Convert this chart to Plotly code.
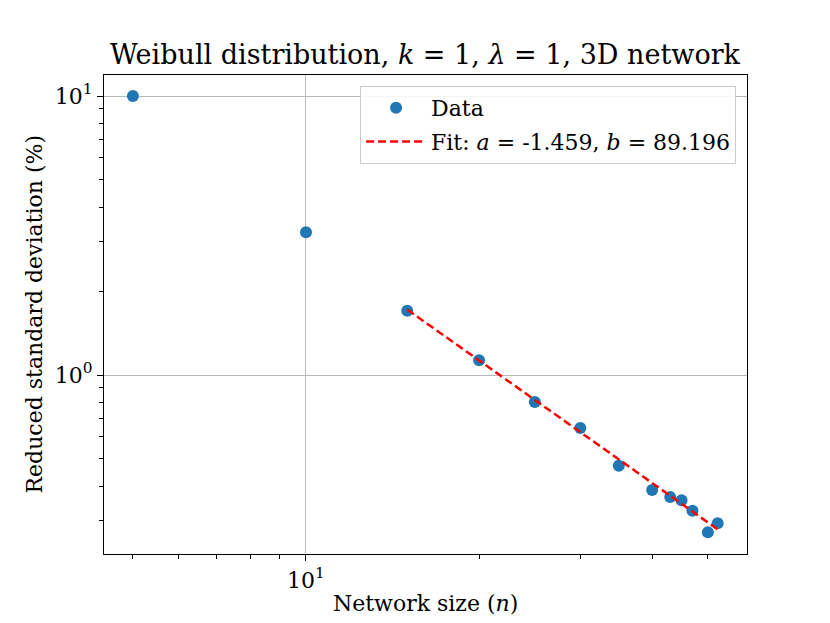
import plotly.graph_objects as go

# Data
network_size = [5, 10, 15, 20, 25, 30, 35, 40, 43, 45, 47, 50, 52]
reduced_std = [10.0, 3.25, 1.70, 1.13, 0.80, 0.646, 0.473, 0.387, 0.365, 0.356, 0.326, 0.273, 0.294]

fit_a = -1.459
fit_b = 89.196
fit_x = [15, 52]
fit_y = [fit_b * x ** fit_a for x in fit_x]

x_major = [10]
x_major_text = ["10<sup>1</sup>"]
x_minor = [5, 6, 7, 8, 9, 20, 30, 40, 50]
y_major = [1, 10]
y_major_text = ["10<sup>0</sup>", "10<sup>1</sup>"]
y_minor = [0.3, 0.4, 0.5, 0.6, 0.7, 0.8, 0.9, 2, 3, 4, 5, 6, 7, 8, 9]

FONT = "DejaVu Serif"
FS = 22

fig = go.Figure()
fig.add_trace(go.Scatter(
    x=network_size, y=reduced_std, mode="markers", name="Data",
    marker=dict(color="#1f77b4", size=12), legendgroup="g1",
))
fig.add_trace(go.Scatter(
    x=fit_x, y=fit_y, mode="lines",
    name=f"Fit: <i>a</i> = {fit_a:.3f}, <i>b</i> = {fit_b:.3f}",
    line=dict(color="red", width=2.5, dash="8px,4px"), legendgroup="g2",
))

axis_common = dict(
    type="log", showline=True, linecolor="black", linewidth=1.3, mirror=True,
    ticks="outside", ticklen=6, tickwidth=1.3, tickcolor="black",
    showgrid=True, gridcolor="#b8b8b8", gridwidth=1.4, zeroline=False,
    tickfont=dict(family=FONT, size=FS, color="black"),
)

fig.update_layout(
    width=830, height=623,
    margin=dict(l=96, r=91, t=67, b=77),
    paper_bgcolor="white", plot_bgcolor="white",
    font=dict(family=FONT, size=FS, color="black"),
    title=dict(text="Weibull distribution, <i>k</i> = 1, <i>λ</i> = 1, 3D network",
               x=(425 - 8) / 830, xanchor="center", y=1 - 47 / 623, yanchor="middle",
               font=dict(family=FONT, size=27, color="black")),
    xaxis=dict(axis_common, range=[0.6487, 1.767], tickmode="array",
               tickvals=x_major, ticktext=x_major_text,
               minor=dict(tickmode="array", tickvals=x_minor, ticks="outside",
                          ticklen=3.5, tickwidth=1, tickcolor="black", showgrid=False)),
    yaxis=dict(axis_common, range=[-0.6416, 1.0753], tickmode="array",
               tickvals=y_major, ticktext=y_major_text,
               minor=dict(tickmode="array", tickvals=y_minor, ticks="outside",
                          ticklen=3.5, tickwidth=1, tickcolor="black", showgrid=False)),
    legend=dict(x=0.983, xanchor="right", y=0.977, yanchor="top",
                bgcolor="rgba(255,255,255,0.85)", bordercolor="#cccccc", borderwidth=1,
                font=dict(family=FONT, size=FS, color="black"),
                itemwidth=60, tracegroupgap=2),
    showlegend=True,
    annotations=[
        dict(text="Network size (<i>n</i>)", xref="paper", yref="paper",
             x=0.5, y=(554 - 603) / 479, xanchor="center", yanchor="middle",
             showarrow=False, font=dict(family=FONT, size=FS, color="black")),
        dict(text="Reduced standard deviation (%)", xref="paper", yref="paper",
             x=(34 - 104) / 643, y=0.5, xanchor="center", yanchor="middle",
             textangle=-90, showarrow=False,
             font=dict(family=FONT, size=FS, color="black")),
    ],
)

fig.write_html("out.html")
